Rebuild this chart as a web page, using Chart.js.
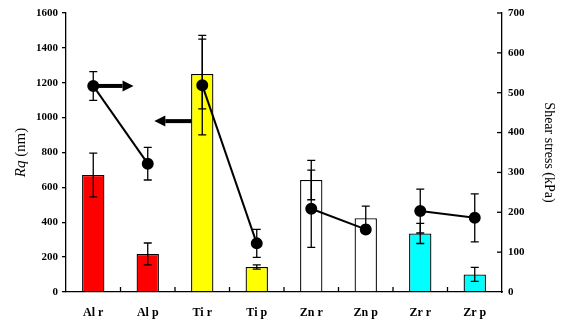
<!DOCTYPE html>
<html>
<head>
<meta charset="utf-8">
<script src="https://cdn.jsdelivr.net/npm/chart.js@4"></script>
<style>
  html, body { margin: 0; padding: 0; background: #fff; }
  #wrap { width: 563px; height: 322px; }
</style>
</head>
<body>
<div id="wrap"><canvas id="chart"></canvas></div>
<script>
// data
const categories = ['Al r', 'Al p', 'Ti r', 'Ti p', 'Zn r', 'Zn p', 'Zr r', 'Zr p'];
const rqValues = [671, 218, 1250, 143, 642, 423, 336, 101];
const rqErrors = [125, 63, 200, 12, 113, 70, 58, 40];
const shearValues = [517, 322, 519, 122, 209, 157, 203, 186];
const shearErrors = [36, 41, 125, 35, 97, 10, 55, 60];
const barColors = ['#ff0000', '#ff0000', '#ffff00', '#ffff00', '#ffffff', '#ffffff', '#00ffff', '#00ffff'];
const rqAxis = { min: 0, max: 1600, step: 200 };
const shearAxis = { min: 0, max: 700, step: 100 };
// arrows: which axis the height belongs to, and from/to in category units
const arrows = [
    { axis: 'y1', value: 517, from: 0, to: 0.74 },
    { axis: 'y', value: 980, from: 1.8, to: 1.12 }
];

const serif = '"Liberation Serif", "Times New Roman", serif';

function drawErrors(ctx, chart, values, errors, scaleId) {
    const x = chart.scales.x;
    const y = chart.scales[scaleId];
    ctx.save();
    ctx.strokeStyle = '#000';
    ctx.lineWidth = 1.3;
    values.forEach((v, i) => {
        const px = x.getPixelForValue(i);
        const top = y.getPixelForValue(v + errors[i]);
        const bot = y.getPixelForValue(v - errors[i]);
        ctx.beginPath();
        ctx.moveTo(px, top); ctx.lineTo(px, bot);
        ctx.moveTo(px - 4, top); ctx.lineTo(px + 4, top);
        ctx.moveTo(px - 4, bot); ctx.lineTo(px + 4, bot);
        ctx.stroke();
    });
    ctx.restore();
}

const extras = {
    id: 'extras',
    afterDatasetsDraw(chart) {
        const ctx = chart.ctx;
        const x = chart.scales.x;
        const y1 = chart.scales.y1;
        const area = chart.chartArea;

        drawErrors(ctx, chart, rqValues, rqErrors, 'y');
        drawErrors(ctx, chart, shearValues, shearErrors, 'y1');

        ctx.save();
        ctx.strokeStyle = '#000';
        ctx.fillStyle = '#000';
        ctx.lineWidth = 1.3;
        // inward ticks on x axis, between categories
        for (let i = 0; i < categories.length - 1; i++) {
            const px = (x.getPixelForValue(i) + x.getPixelForValue(i + 1)) / 2;
            ctx.beginPath();
            ctx.moveTo(px, area.bottom); ctx.lineTo(px, area.bottom - 5);
            ctx.stroke();
        }
        // inward ticks on right axis
        for (let v = shearAxis.min + shearAxis.step; v <= shearAxis.max; v += shearAxis.step) {
            const py = y1.getPixelForValue(v);
            ctx.beginPath();
            ctx.moveTo(area.right, py); ctx.lineTo(area.right - 5, py);
            ctx.stroke();
        }

        // arrows
        arrows.forEach(a => {
            const py = chart.scales[a.axis].getPixelForValue(a.value);
            const x0 = x.getPixelForValue(a.from);
            const x1 = x.getPixelForValue(a.to);
            const dir = Math.sign(x1 - x0);
            const headLen = 11;
            ctx.lineWidth = 4;
            ctx.beginPath();
            ctx.moveTo(x0, py); ctx.lineTo(x1 - dir * headLen, py);
            ctx.stroke();
            ctx.beginPath();
            ctx.moveTo(x1, py);
            ctx.lineTo(x1 - dir * headLen, py - 5.5);
            ctx.lineTo(x1 - dir * headLen, py + 5.5);
            ctx.closePath();
            ctx.fill();
        });

        // axis titles
        ctx.textBaseline = 'middle';
        ctx.save();
        ctx.translate(21, (area.top + area.bottom) / 2);
        ctx.rotate(-Math.PI / 2);
        ctx.font = 'italic 15px ' + serif;
        const w1 = ctx.measureText('Rq').width;
        ctx.font = '15px ' + serif;
        const w2 = ctx.measureText(' (nm)').width;
        ctx.textAlign = 'left';
        ctx.font = 'italic 15px ' + serif;
        ctx.fillText('Rq', -(w1 + w2) / 2, 0);
        ctx.font = '15px ' + serif;
        ctx.fillText(' (nm)', -(w1 + w2) / 2 + w1, 0);
        ctx.restore();

        ctx.save();
        ctx.translate(549, (area.top + area.bottom) / 2);
        ctx.rotate(Math.PI / 2);
        ctx.textAlign = 'center';
        ctx.font = '14px ' + serif;
        ctx.fillText('Shear stress (kPa)', 0, 0);
        ctx.restore();
        ctx.restore();
    }
};

const tickFont = { family: serif, size: 11, weight: 'bold' };

new Chart(document.getElementById('chart'), {
    data: {
        labels: categories,
        datasets: [
            {
                type: 'line',
                label: 'Shear stress',
                data: shearValues,
                yAxisID: 'y1',
                borderColor: '#000',
                borderWidth: 2,
                pointRadius: 5,
                pointBackgroundColor: '#000',
                pointBorderColor: '#000',
                segment: {
                    borderColor: c => c.p0DataIndex % 2 === 1 ? 'transparent' : '#000'
                },
                order: 0
            },
            {
                type: 'bar',
                label: 'Rq',
                data: rqValues,
                yAxisID: 'y',
                backgroundColor: barColors,
                borderColor: '#000',
                borderWidth: 1.3,
                barPercentage: 0.41,
                categoryPercentage: 1,
                order: 1
            }
        ]
    },
    options: {
        responsive: true,
        maintainAspectRatio: false,
        animation: false,
        layout: { padding: { top: 13 } },
        plugins: {
            legend: { display: false },
            tooltip: { enabled: false }
        },
        scales: {
            x: {
                offset: true,
                grid: { display: false, drawTicks: false },
                border: { display: true, color: '#000', width: 1.3 },
                ticks: { color: '#000', font: { family: serif, size: 12, weight: 'bold' }, padding: 14, maxRotation: 0 },
                afterFit(scale) { scale.height = 30; }
            },
            y: {
                position: 'left',
                min: rqAxis.min,
                max: rqAxis.max,
                ticks: { stepSize: rqAxis.step, color: '#000', font: tickFont, padding: 4, callback: v => String(v) },
                grid: { drawOnChartArea: false, tickLength: 4, color: '#000', lineWidth: 1.3 },
                border: { display: true, color: '#000', width: 1.3 },
                afterFit(scale) { scale.width = 66; }
            },
            y1: {
                position: 'right',
                min: shearAxis.min,
                max: shearAxis.max,
                ticks: { stepSize: shearAxis.step, color: '#000', font: tickFont, padding: 6, callback: v => String(v) },
                grid: { drawOnChartArea: false, drawTicks: false },
                border: { display: true, color: '#000', width: 1.3 },
                afterFit(scale) { scale.width = 61; }
            }
        }
    },
    plugins: [extras]
});
</script>
</body>
</html>
